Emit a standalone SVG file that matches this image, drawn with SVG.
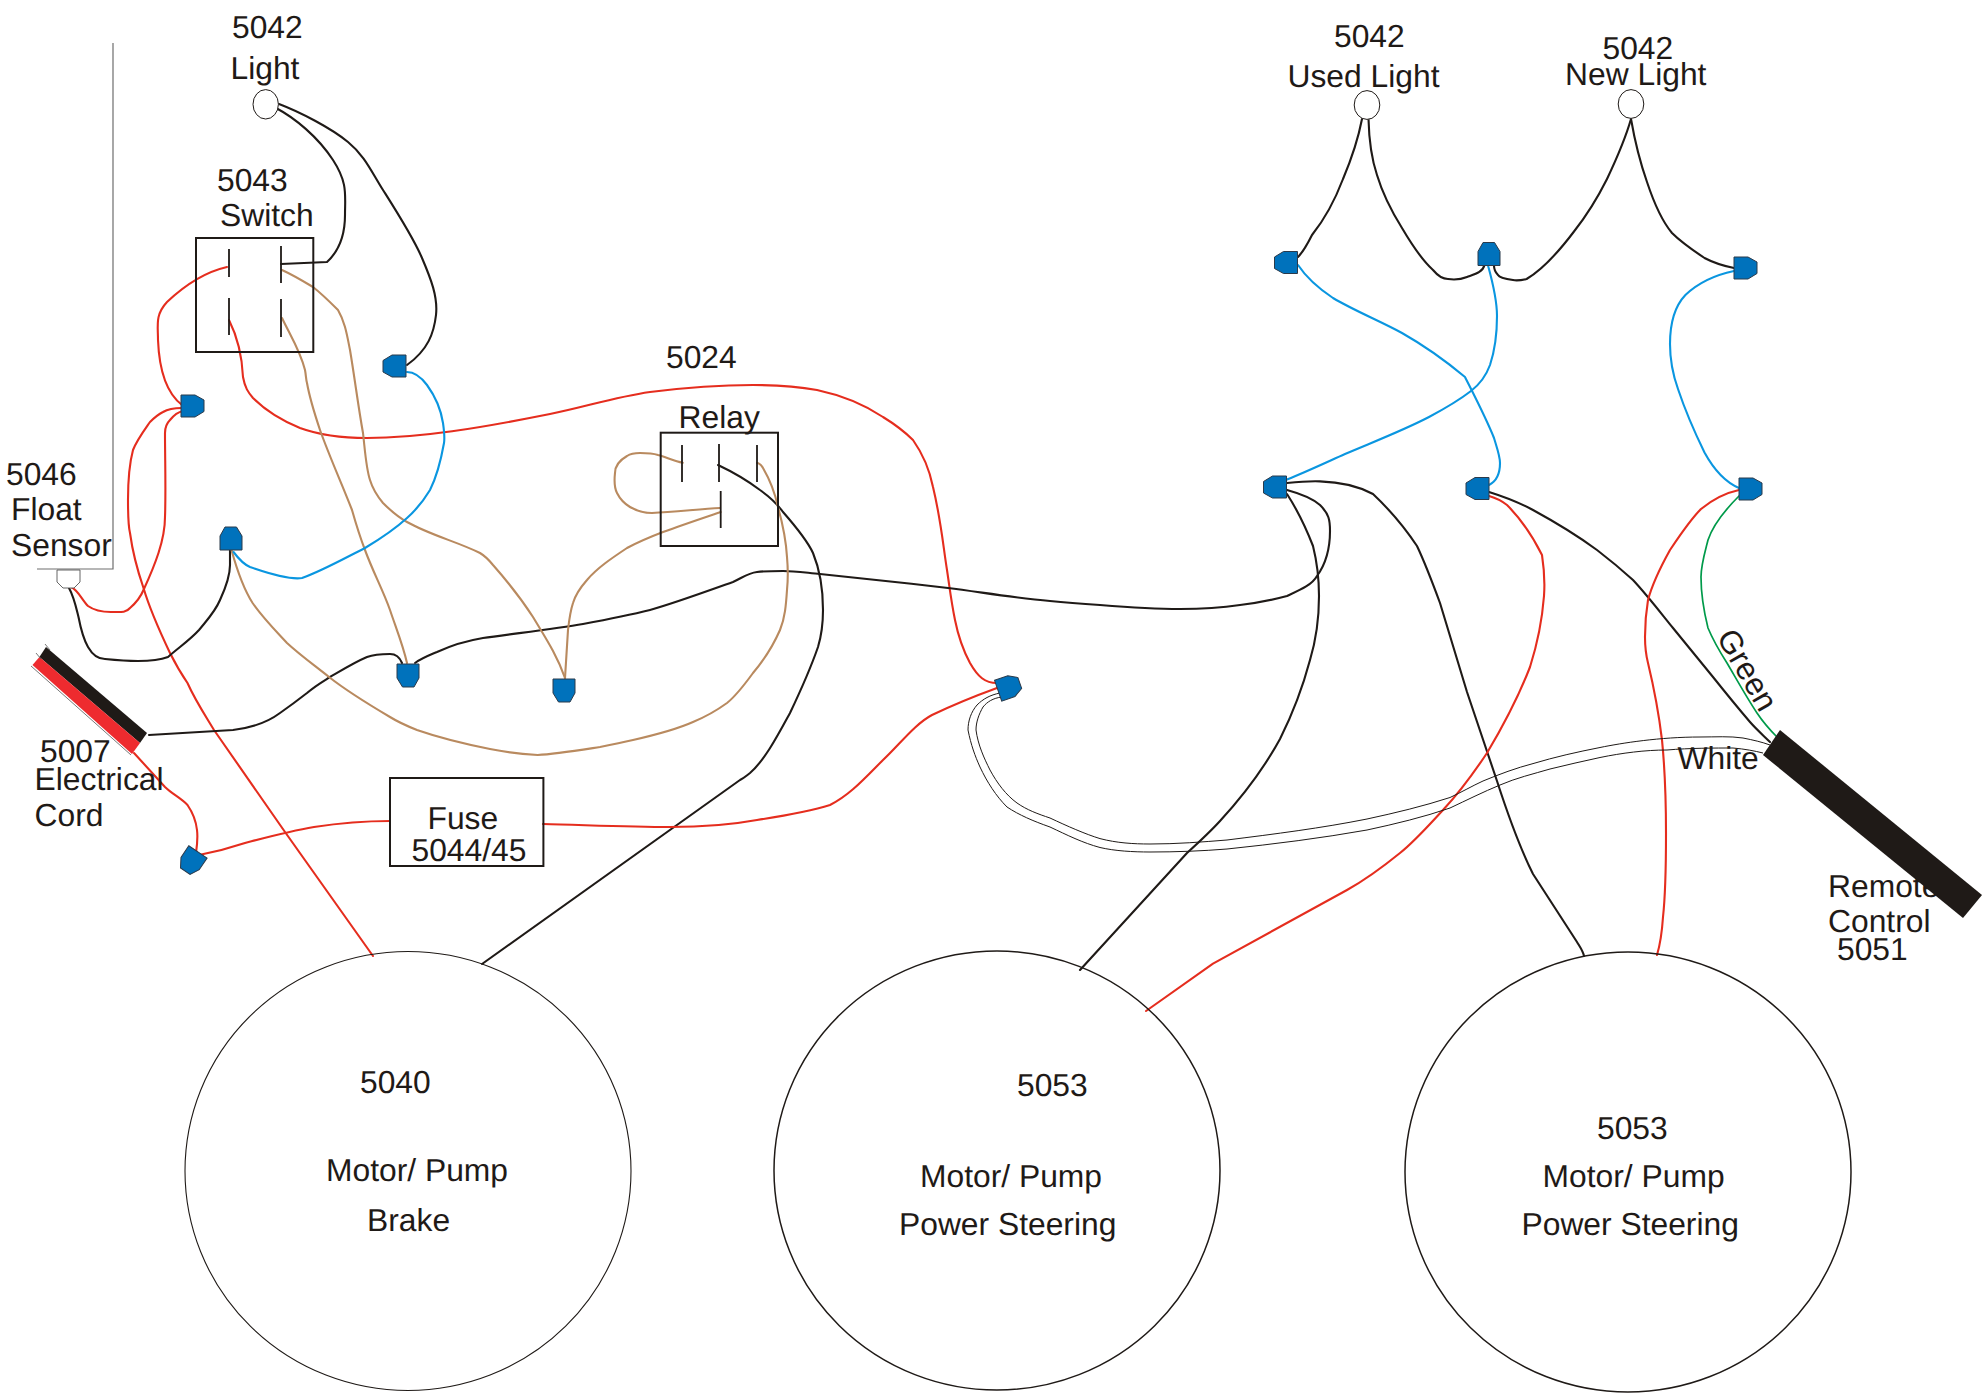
<svg xmlns="http://www.w3.org/2000/svg" xmlns:xlink="http://www.w3.org/1999/xlink" width="1986" height="1397" viewBox="0 0 1986 1397">
<style>
text{font-family:"Liberation Sans",Arial,sans-serif;font-size:31.8px;fill:#1f1a17;text-rendering:geometricPrecision}
.w{fill:none;stroke-width:2.1;stroke-linejoin:round;stroke-linecap:round}
.k{stroke:#1f1a17}.r{stroke:#e52d1e}.b{stroke:#b98a5f}.u{stroke:#0a96e0}.g{stroke:#009a4a;stroke-width:1.7}
.t{fill:none;stroke:#1f1a17;stroke-width:1}
.box{fill:none;stroke:#1f1a17;stroke-width:2}
.c{stroke:#1f1a17;stroke-width:1.8;fill:none}
.lamp{fill:#fff;stroke:#1f1a17;stroke-width:1}
.motor{fill:none;stroke:#1f1a17;stroke-width:1.5}
.conn{fill:#0072bc;stroke:#2b3a4a;stroke-width:1}
</style>
<defs><polygon id="tc" points="-11.5,-11 2.5,-11 11.5,-6 11.5,5.5 2.5,11 -11.5,11"/></defs>
<rect width="1986" height="1397" fill="#fff"/>

<g id="connectors">
<path class="w k" d="M276,108 C295,118 318,137 333,160 S345,195 345,215 S340,250 327,262 L281,264"/>
<path class="w k" d="M279,104 C300,112 331,128 348,142 S371,171 383,190 S413,237 422,258 S438,297 436,315 S428,350 407,365"/>
<path class="w r" d="M227,267 C205,272 185,285 167,302 C155,315 158,325 158,340 C159,365 165,392 182,405"/>
<path class="w r" d="M229,320 C238,338 242,355 243,377 C245,388 248,392 253,398 C268,413 283,421 300,428 C322,436 345,438 367,438 C420,438 480,428 550,414 C585,407 615,397 650,392 C690,387 725,385 753,385 C775,385 795,386 817,390 C845,396 865,405 883,417 C896,425 905,432 913,440 C925,457 930,472 933,487 C941,520 943,545 947,570 C950,590 951,600 955,620 C958,635 963,650 970,663 C978,677 985,683 997,683"/>
<path class="w r" d="M71,587 C78,590 82,600 88,606 C95,611 103,612 111,612 C120,612 126,613 130,608 C137,602 141,596 143.5,590 C155,565 165,540 165,517 C166,490 165,460 165,433 C165,428 167,423 170,420 C174,415 178,412 183,411"/>
<path class="w r" d="M182,408 C172,408 168,409 163,412 C157,415 155,417 150,422 C143,432 137,440 133,450 C129,465 128,485 128,500 C128,515 128,525 130,533 C133,555 138,572 143.5,588 C150,610 160,632 170,653 C176,665 182,675 187.5,683 C195,700 205,715 214,730 L285,832 L373,956"/>
<path class="w k" d="M69,588 C74,597 76,607 78.5,617 C81,630 84,640 88,647 C92,654 98,659 105,659 C115,660 127,661 138,661 C150,661 160,660 168,657 C178,648 190,640 199,630 C207,620 215,612 220,600 C226,587 230,575 230,565 L230,550"/>
<path class="w k" d="M149,735 L233,730 C250,728 268,722 280,713 C290,706 298,700 307,693 C315,686 322,682 330,677 C342,670 355,662 367,657 C375,654 382,654 390,654 C397,654 400,658 402,663"/>
<path class="w k" d="M415,663 C422,658 430,655 437,652 C450,646 465,641 483,638 C510,634 555,629 583,624 C610,619 630,615 650,610 C672,604 705,592 733,582 C742,578 748,573 757,572 C765,571 775,571 783,571 C795,571 808,573 820,574 C860,578 905,583 948,588 C980,592 1015,598 1050,601 C1070,603 1085,604 1100,605 C1125,607 1155,609 1180,609 C1200,609 1220,608 1240,605 C1257,603 1272,600 1287,596 C1300,590 1312,585 1317,576 C1325,565 1330,550 1330,531 C1330,520 1329,514 1320,505 C1312,498 1298,493 1287,490"/>
<path class="w k" d="M718,465 C735,473 748,481 760,490 C770,497 778,505 783,512 C797,528 807,540 813,553 C820,570 823,590 823,610 C823,625 821,637 818,647 C810,670 800,692 790,713 C778,735 765,760 750,773 C746,776 744,778 740,780 L482,964"/>
<path class="w b" d="M682.7,462.7 C674,461 666,457 658,455 C652,453 646,453 640,453 C634,453 630,454 627,456 C620,460 615,466 615,473 C614,482 614,487 617,493 C620,499 625,504 630,507 C637,511 645,513 652,513 C675,512 700,509 720,508"/>
<path class="w b" d="M720.7,512 C700,519 682,525 663,532 C650,537 638,542 627,548 C612,558 597,568 587,580 C580,588 575,596 573,603 C570,612 569,621 568,630 C567,645 566,660 565,678"/>
<path class="w b" d="M757,463 C760,463 761,465 763,468 C770,480 775,493 778,507 C783,525 786,540 787,557 C788,568 788,580 787,590 C786,605 785,618 780,630 C773,646 764,660 753,673 C745,684 737,695 727,703 C716,711 705,717 693,722 C675,730 655,735 633,740 C620,743 610,745 600,747 C580,750 555,754 537.7,755 C520,754 505,752 490,749 C465,744 440,738 417,730 C407,726 398,722 390,717 C368,704 348,692 329,677 C314,665 300,655 287,643 C275,630 263,618 252.6,603 C243,588 237,570 231.5,550"/>
<path class="w b" d="M282,270 C293,275 303,281 313,287 C322,294 330,302 338,310 C345,322 347,335 350,350 C355,380 358,405 363,433 C365,450 366,468 370,480 C373,490 378,497 383,503 C390,510 398,517 407,522 C430,535 458,542 480,553 C485,556 489,560 493,565 C508,582 522,600 533,617 C545,637 557,655 565,678"/>
<path class="w b" d="M282,318 C290,335 300,350 305,370 C306,375 306,380 307,383 C310,400 315,415 320,430 C330,458 342,484 352,510 C356,524 360,537 365,550 C373,572 383,590 390,610 C396,628 403,645 407,663"/>
<path class="w u" d="M407,372 C415,372 421,377 427,385 C435,396 441,410 443,423 C444,430 445,437 444,443 C441,460 437,476 430,490 C424,500 416,510 407,518 C395,529 380,539 365,548 C345,558 322,571 302,578 C290,580 270,574 250,567 C243,564 238,558 233.5,552"/>
<path class="w r" d="M134,753 L165,787 C172,794 181,798 187.5,805 C193,813 196,821 197,830 C198,838 197,846 196,853"/>
<path class="w r" d="M199,855 C215,852 230,848 245,843 C268,837 290,831 314,827 C340,823 365,821 390,821"/>
<path class="w r" d="M543,824 C585,825 630,827 670,827 C700,827 730,825 757,820 C783,816 808,812 830,805 C850,795 865,778 883,760 C900,744 915,724 932,715 C955,704 975,696 997,688"/>
<path class="w k" d="M1362,119 C1358,140 1351,160 1343,179 C1335,200 1324,220 1312,235 C1307,245 1303,252 1298,257"/>
<path class="w k" d="M1368.5,119 C1369,140 1372,160 1377,175 C1383,195 1392,212 1402,228 C1412,245 1422,260 1433,270 C1438,276 1442,279 1448,279 C1455,280 1462,279 1467,277 C1475,274 1483,272 1484.5,265"/>
<path class="w k" d="M1631,119 C1625,140 1616,160 1607,179 C1598,197 1587,215 1574,231.5 C1560,250 1542,270 1526.6,279 C1522,280 1518,281 1513,280 C1505,279 1499,277 1498,275 C1495,272 1494,268 1494,265.5"/>
<path class="w k" d="M1631,119 C1635,142 1640,162 1647,182 C1653,200 1661,220 1672,233 C1682,243 1694,251 1704.5,258 C1714,263 1724,266 1734,268"/>
<path class="w u" d="M1298,265 C1306,277 1318,288 1333,298 C1355,311 1380,321 1402,333 C1425,346 1447,362 1465,377 C1474,395 1486,418 1494,438 C1497,448 1500,456 1500,463 C1500,473 1497,481 1489,485"/>
<path class="w u" d="M1488,265.5 C1492,280 1497,298 1497,316 C1497,335 1495,350 1490,365 C1486,376 1480,384 1471,391 C1458,401 1444,409 1429,417 C1402,431 1373,442 1345,454 C1325,463 1306,472 1287,479.5"/>
<path class="w u" d="M1734,271 C1715,275 1698,283 1685.4,295 C1674,307 1670,325 1670,344 C1670,360 1673,375 1678,389 C1685,410 1695,433 1704.5,452.5 C1713,468 1725,482 1739,488"/>
<path class="w k" d="M1287,483 C1297,482 1309,481 1320,481.4 C1340,482 1358,486 1373,494 C1390,510 1405,528 1417,546 C1426,565 1433,584 1440,603 C1449,633 1458,662 1467,692 C1477,722 1487,752 1497,781 C1508,815 1520,848 1533,874 L1577,942 C1580,947 1583,951 1584,956"/>
<path class="w k" d="M1287,494 C1298,511 1306,528 1313,546 C1317,562 1319,578 1319,596 C1319,620 1316,640 1310,660 C1302,690 1292,715 1280,739 C1263,770 1243,796 1220,821 C1210,832 1198,843 1187,853 L1080,970"/>
<path class="w r" d="M1489,496 C1496,498 1502,501 1507,505 C1520,518 1533,537 1542,555 C1544,568 1545,582 1544,596 C1542,622 1537,645 1530,667 C1518,698 1503,726 1487,753 C1473,774 1458,794 1443,810 C1429,825 1415,841 1400,853 C1384,866 1365,880 1347,890 L1213,963.6 L1146,1011"/>
<path class="w k" d="M1489,492 C1505,497 1520,503 1533,510 C1555,522 1578,536 1597,550 C1610,560 1622,570 1633,580 C1647,595 1660,612 1673,628 C1687,645 1700,661 1713,677 C1725,692 1738,708 1750,722 C1757,730 1764,736 1770,742"/>
<path class="w g" d="M1739,496 C1725,510 1713,525 1708,540 C1705,552 1701,565 1701,577 C1701,595 1704,612 1708,628 C1713,640 1720,652 1727,663 C1737,680 1747,698 1757,713 C1763,722 1770,730 1777,737"/>
<path class="w r" d="M1739,490 C1725,493 1712,500 1701,509 C1690,520 1680,535 1670,550 C1660,568 1652,585 1648,600 C1646,612 1645,625 1645,637 C1645,647 1646,655 1648,663 C1654,688 1659,715 1662,740 C1665,770 1666,800 1666,833 C1666,862 1666,890 1663,917 C1662,932 1660,945 1657,955"/>
<path class="t" d="M1002,697 C993,698 987,702 983,707 C979,714 976,722 976,730 C978,745 984,758 990,770 C997,783 1006,795 1017,803 C1027,810 1038,814 1050,818 C1067,826 1085,834 1100,838.6 C1117,843 1133,844 1150,844 C1177,844 1202,842 1227,840 C1275,834 1322,828 1367,819 C1395,813 1424,806 1450,797.5 C1462,792 1472,786 1483,781 C1500,774 1516,768 1533,763.6 C1555,757 1577,752 1600,747.5 C1622,743 1660,737 1700,737 C1715,737 1730,736 1743,738 C1753,740 1762,742 1770,745"/>
<path class="t" d="M1000,693 C990,695 983,699 977,705 C971,712 968,721 968,730 C971,745 975,756 980,767 C987,782 996,796 1007,807 C1019,815 1033,821 1050,827 C1067,835 1083,843 1100,847.5 C1115,851 1133,852 1150,852 C1177,852 1202,851 1227,849 C1275,844 1322,838 1367,830 C1395,824 1424,817 1450,808 C1467,800 1483,792 1500,785 C1516,778 1533,774 1550,769 C1567,765 1583,761 1600,757.5 C1622,753 1645,750 1667,750 C1690,748 1715,748 1733,748 C1745,749 1755,751 1763,753"/>
</g>

<g id="light-5042"><text x="232" y="38">5042</text><text x="230.5" y="79">Light</text><ellipse class="lamp" cx="265.7" cy="104.3" rx="12.7" ry="14.7"/></g>
<g id="switch-5043"><text x="217" y="191">5043</text><text x="220" y="226">Switch</text><rect class="box" x="196" y="238" width="117.3" height="114"/><path class="c" d="M229,249V277M281,246V283M229,298V335M281,299V337"/></g>
<g id="float-sensor-5046"><text x="6" y="485">5046</text><text x="11" y="520">Float</text><text x="11" y="556">Sensor</text><path d="M113,43V569H37" fill="none" stroke="#6e6e6e" stroke-width="1.2"/><polygon points="57,570 80,570 80,582 74,588 63,588 57,582" fill="#fff" stroke="#555" stroke-width=".9"/></g>
<g id="cord-5007"><polygon points="46,647 147,733 140,743 39.4,657" fill="#1f1a17"/><polygon points="39.4,657 140,743 132,754 32.5,665" fill="#ee2b2f"/><path d="M31,666L131,755M45,644L50,650M36,653L41,659" fill="none" stroke="#555" stroke-width=".8"/><text x="40" y="762">5007</text><text x="34.6" y="790">Electrical</text><text x="34.6" y="826">Cord</text></g>
<g id="relay-5024"><text x="666" y="368">5024</text><text x="678.5" y="427.5">Relay</text><rect class="box" x="660.7" y="432.7" width="117.3" height="113.3"/><path class="c" d="M682,445V482M719,444V482M757,445V482M720.7,491V528"/></g>
<g id="fuse-5044-45"><rect class="box" x="390" y="778" width="153.4" height="88"/><text x="427.5" y="829">Fuse</text><text x="411.5" y="861">5044/45</text></g>
<g id="used-light-5042"><text x="1334" y="47">5042</text><text x="1287.5" y="87">Used Light</text><ellipse class="lamp" cx="1367" cy="105" rx="12.8" ry="14.4"/></g>
<g id="new-light-5042"><text x="1602.5" y="59">5042</text><text x="1565" y="85">New Light</text><ellipse class="lamp" cx="1631" cy="104" rx="12.8" ry="14.4"/></g>
<g id="motor-5040"><ellipse class="motor" style="stroke-width:1.1" cx="408" cy="1171" rx="223" ry="219.5"/><text x="360" y="1093">5040</text><text x="326" y="1181">Motor/ Pump</text><text x="367" y="1231">Brake</text></g>
<g id="motor-5053-a"><ellipse class="motor" cx="997" cy="1170.5" rx="223" ry="219.5"/><text x="1017" y="1096">5053</text><text x="920" y="1187">Motor/ Pump</text><text x="899" y="1235">Power Steering</text></g>
<g id="motor-5053-b"><ellipse class="motor" cx="1628" cy="1172" rx="223" ry="220"/><text x="1597" y="1139">5053</text><text x="1542.6" y="1187">Motor/ Pump</text><text x="1521.5" y="1235">Power Steering</text></g>
<g id="remote-5051"><text x="1828" y="897">Remote</text><text x="1828" y="932">Control</text><text x="1837" y="960">5051</text><polygon points="1780,730 1982,895 1963,918 1763,755" fill="#1f1a17"/><text x="1677.5" y="769">White</text><text transform="translate(1716,637) rotate(60)" x="0" y="0">Green</text></g>

<g id="terminals">
<use id="t1" xlink:href="#tc" class="conn" transform="translate(192.5,406)"/>
<use id="t2" xlink:href="#tc" class="conn" transform="translate(394.5,366) rotate(180)"/>
<use id="t3" xlink:href="#tc" class="conn" transform="translate(231,538.5) rotate(-90)"/>
<use id="t4" xlink:href="#tc" class="conn" transform="translate(408,675.5) rotate(90)"/>
<use id="t5" xlink:href="#tc" class="conn" transform="translate(564,690.5) rotate(90)"/>
<use id="t6" xlink:href="#tc" class="conn" transform="translate(191.5,861.5) rotate(124)"/>
<use id="t7" xlink:href="#tc" class="conn" transform="translate(1009,687) rotate(-19)"/>
<use id="t8" xlink:href="#tc" class="conn" transform="translate(1286,262.5) rotate(180)"/>
<use id="t9" xlink:href="#tc" class="conn" transform="translate(1489,254) rotate(-90)"/>
<use id="t10" xlink:href="#tc" class="conn" transform="translate(1745.5,268)"/>
<use id="t11" xlink:href="#tc" class="conn" transform="translate(1275,487) rotate(180)"/>
<use id="t12" xlink:href="#tc" class="conn" transform="translate(1477.5,488.5) rotate(180)"/>
<use id="t13" xlink:href="#tc" class="conn" transform="translate(1750.5,489)"/>
</g>
</svg>
